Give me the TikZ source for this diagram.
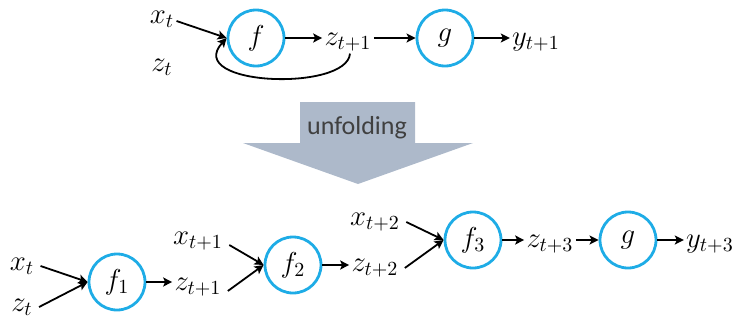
\documentclass[tikz,border=0pt]{standalone}
\usepackage{amsmath}
\usepackage{fontspec}
\newfontfamily\labelfont{Carlito}
\usetikzlibrary{arrows.meta}
\definecolor{cellblue}{RGB}{30,172,230}
\definecolor{foldgray}{RGB}{173,185,202}

\begin{document}
\begin{tikzpicture}[x=0.5pt,y=-0.5pt,>={Stealth[length=4.5pt,width=4.5pt,inset=1pt]},
  font=\fontsize{14}{16}\selectfont,
  cell/.style={circle,draw=cellblue,line width=1.4pt,minimum size=28pt,inner sep=0pt},
  lab/.style={inner sep=1pt},
  link/.style={->,line width=0.9pt}]
\useasboundingbox (0,0) rectangle (735,322);
% folded network
\node[cell](f)at(256,38){$f$};
\node[cell](g)at(445,38){$g$};
\node[lab](xa)at(162,19){$x_t$};
\node[lab](za)at(162,67){$z_t$};
\node[lab](zb)at(348,42){$z_{t+1}$};
\node[lab](ya)at(536,42){$y_{t+1}$};
\draw[link]([yshift=-1pt]xa.east)--(f.west);
\draw[link](f.east)--(f.east-|zb.west);
\draw[link](g.west-|zb.east)--(g.west);
\draw[link](g.east)--(g.east-|ya.west);
\draw[link]([xshift=1pt]zb.south).. controls (347,92) and (183,86) ..(f.west);
% unfolding arrow
\fill[foldgray](300,102)--(415,102)--(415,143)--(473,143)--(358,184)--(243,143)--(300,143)--cycle;
\node[font=\labelfont\fontsize{13}{15}\selectfont,text=black!75](unfold)at(357,128){unfolding};
% unfolded network
\node[cell](f1)at(117,282){$f_1$};
\node[cell](f2)at(293,265){$f_2$};
\node[cell](f3)at(473,240){$f_3$};
\node[cell](g3)at(628,240){$g$};
\node[lab](x1)at(22,266){$x_t$};
\node[lab](z1)at(22,307){$z_t$};
\node[lab](z2)at(198,287){$z_{t+1}$};
\node[lab](x2)at(198,241){$x_{t+1}$};
\node[lab](z3)at(375,268){$z_{t+2}$};
\node[lab](x3)at(375,222){$x_{t+2}$};
\node[lab](z4)at(550,244){$z_{t+3}$};
\node[lab](y3)at(710,244){$y_{t+3}$};
\draw[link]([xshift=2pt]x1.east)--(f1.west);
\draw[link]([xshift=2pt]z1.east)--(f1.west);
\draw[link](f1.east)--(f1.east-|z2.west);
\draw[link]([xshift=2pt,yshift=-2pt]x2.east)--(f2.west);
\draw[link]([xshift=2pt,yshift=-2pt]z2.east)--(f2.west);
\draw[link](f2.east)--(f2.east-|z3.west);
\draw[link]([xshift=2pt]x3.east)--(f3.west);
\draw[link]([xshift=2pt]z3.east)--(f3.west);
\draw[link](f3.east)--(f3.east-|z4.west);
\draw[link](g3.west-|z4.east)--(g3.west);
\draw[link](g3.east)--(g3.east-|y3.west);
\end{tikzpicture}
\end{document}
